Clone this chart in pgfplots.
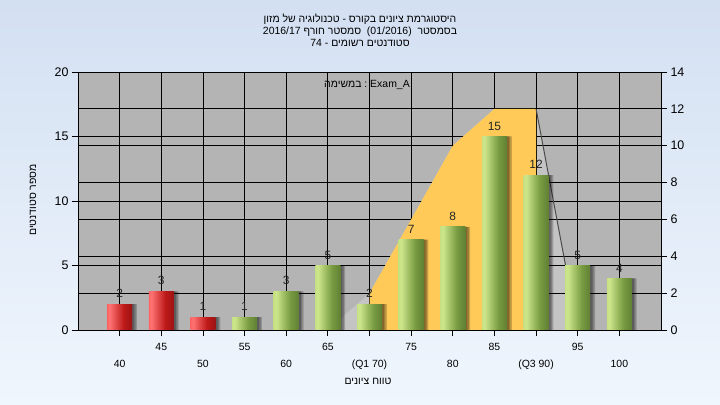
\documentclass[border=0pt]{standalone}
\usepackage{fontspec}
\setmainfont{Liberation Sans}
\newfontfamily\heb[Script=Hebrew]{Liberation Sans}
\usepackage{pgfplots}
\usepackage{pgfplotstable}
\pgfplotsset{compat=1.18}
\TeXXeTstate=1

\definecolor{bgtop}{RGB}{211,224,242}
\definecolor{bgbot}{RGB}{240,246,253}
\definecolor{plotgray}{RGB}{180,180,180}
\definecolor{areagray}{RGB}{196,196,196}
\definecolor{areayellow}{RGB}{255,202,87}
\definecolor{gA}{RGB}{160,200,75}
\definecolor{gB}{RGB}{205,230,140}
\definecolor{gC}{RGB}{120,155,65}
\definecolor{gD}{RGB}{62,88,32}
\definecolor{rA}{RGB}{235,25,25}
\definecolor{rB}{RGB}{255,115,115}
\definecolor{rC}{RGB}{190,25,25}
\definecolor{rD}{RGB}{105,10,10}

\pgfdeclarehorizontalshading{greenbar}{100bp}{color(0bp)=(gA); color(30bp)=(gB); color(58bp)=(gC); color(100bp)=(gD)}
\pgfdeclarehorizontalshading{redbar}{100bp}{color(0bp)=(rA); color(30bp)=(rB); color(58bp)=(rC); color(100bp)=(rD)}

% grade ranges below 55
\pgfplotstableread{
x y
40 2
45 3
50 1
}\failtab
% grade ranges from 55
\pgfplotstableread{
x y
55 1
60 3
65 5
70 2
75 7
80 8
85 15
90 12
95 5
100 4
}\passtab
% area, right axis
\pgfplotstableread{
x y
65 0
70 2
75 6
80 10
85 12
90 12
95 0
}\areatab

\begin{document}
\begin{tikzpicture}
\shade[top color=bgtop, bottom color=bgbot] (0,0) rectangle (720bp,405bp);
\pgfplotsset{
  panel/.style={scale only axis, width=583bp, height=258bp,
    at={(78bp,75bp)}, anchor=south west, xmin=35, xmax=105},
  gridline/.style={grid style={black, line width=0.8bp}},
  shadow/.style={ybar, bar width=3, bar shift=#1, fill=black, opacity=0.2, draw=none},
  onebar/.style={ybar, bar width=3, draw=none, shading=#1, nodes near coords},
}

% background, light area and right-scale grid
\begin{axis}[panel, ymin=0, ymax=14, axis on top,
  axis background/.style={fill=plotgray},
  axis line style={draw=none}, major tick length=0pt,
  xtick={40,45,...,100}, ytick={2,4,...,12},
  xticklabels={}, yticklabels={},
  xmajorgrids, ymajorgrids, gridline]
\addplot[fill=areagray, draw=none] table {\areatab} \closedcycle;
\end{axis}

% left-scale grid
\begin{axis}[panel, ymin=0, ymax=20,
  axis line style={draw=none}, major tick length=0pt,
  xtick=\empty, ytick={5,10,15,20}, yticklabels={},
  ymajorgrids, gridline]
\end{axis}

% yellow band and right axis
\begin{axis}[panel, ymin=0, ymax=14,
  axis x line=none, axis y line*=right,
  ytick={0,2,...,14}, tick align=outside, major tick length=6bp,
  tick style={black, line width=0.8bp},
  axis line style={black, line width=0.8bp},
  yticklabel style={font=\fontsize{12.5}{12.5}\selectfont},
  /pgf/number format/assume math mode=true]
\addplot[fill=areayellow, draw=none, restrict x to domain=70:90] table {\areatab} \closedcycle;
\addplot[black!70, line width=1bp, restrict x to domain=90:95] table {\areatab};
\end{axis}

% bars, left axis, x axis
\begin{axis}[panel, ymin=0, ymax=20,
  axis x line*=bottom, axis y line*=left,
  tick align=outside, major tick length=6bp,
  tick style={black, line width=0.8bp},
  axis line style={black, line width=0.8bp},
  ytick={0,5,...,20},
  xtick={45,55,...,95},
  extra x ticks={40,50,...,100},
  extra x tick labels={40,50,60,{(Q1 70)},80,{(Q3 90)},100},
  extra x tick style={xticklabel style={yshift=-17bp}},
  yticklabel style={font=\fontsize{12.5}{12.5}\selectfont},
  xticklabel style={font=\fontsize{10.5}{10.5}\selectfont, anchor=base, yshift=-14bp},
  /pgf/number format/assume math mode=true,
  every node near coord/.append style={font=\fontsize{12}{12}\selectfont,
    inner sep=0pt, yshift=6bp, text=black!85}]
\addplot[shadow=0.25] table {\failtab};
\addplot[shadow=0.25] table {\passtab};
\addplot[shadow=0.42] table {\failtab};
\addplot[shadow=0.42] table {\passtab};
\addplot[shadow=0.58] table {\failtab};
\addplot[shadow=0.58] table {\passtab};
% one path per bar, so that each bar gets its own shading
\pgfplotsinvokeforeach{40,45,50}{
  \addplot[onebar=redbar, restrict x to domain=#1:#1] table {\failtab};
}
\pgfplotsinvokeforeach{55,60,65,70,75,80,85,90,95,100}{
  \addplot[onebar=greenbar, restrict x to domain=#1:#1] table {\passtab};
}
\end{axis}

% texts
\node[font=\heb\fontsize{10.5}{12}\selectfont, align=center] at (360bp,375bp)
  {\beginR היסטוגרמת ציונים בקורס - טכנולוגיה של מזון\endR\\
   \beginR בסמסטר\ \ \beginL(01/2016)\endL\ \ סמסטר חורף \beginL 2016/17\endL\endR\\
   \beginR סטודנטים רשומים - \beginL 74\endL\endR};
\node[font=\fontsize{10.5}{12}\selectfont] at (367bp,320bp)
  {{\heb\beginR במשימה\endR}\ :\ Exam\_A};
\node[font=\heb\fontsize{10.5}{12}\selectfont, rotate=90] at (33bp,205bp)
  {\beginR מספר סטודנטים\endR};
\node[font=\heb\fontsize{10.5}{12}\selectfont] at (368bp,24bp)
  {\beginR טווח ציונים\endR};

\pgfresetboundingbox
\path (0,0) rectangle (720bp,405bp);
\end{tikzpicture}
\end{document}
